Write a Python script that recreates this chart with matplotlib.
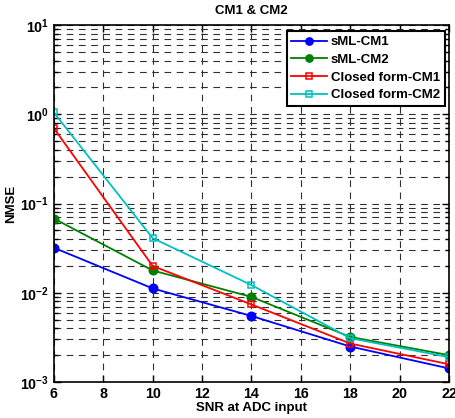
import matplotlib
matplotlib.use("Agg")
import matplotlib.pyplot as plt
from matplotlib.ticker import LogLocator, FixedLocator

snr = [6, 10, 14, 18, 22]
sml_cm1 = [0.032, 0.0112, 0.0055, 0.0025, 0.00142]
sml_cm2 = [0.068, 0.0178, 0.0090, 0.0032, 0.0020]
cf_cm1 = [0.70, 0.020, 0.0074, 0.0027, 0.00158]
cf_cm2 = [1.05, 0.041, 0.0122, 0.0031, 0.0019]
labels = ["sML-CM1", "sML-CM2", "Closed form-CM1", "Closed form-CM2"]
xticks = [6, 8, 10, 12, 14, 16, 18, 20, 22]

plt.rcParams['font.family'] = ['Liberation Sans', 'DejaVu Sans']
plt.rcParams['font.weight'] = 'bold'
FS = 9.5

fig = plt.figure(figsize=(4.56, 4.18), dpi=100)
ax = fig.add_axes([0.118, 0.086, 0.867, 0.854])

ax.plot(snr, sml_cm1, '-o', color='blue', lw=1.3, ms=6.2, label=labels[0])
ax.plot(snr, sml_cm2, '-o', color='green', lw=1.3, ms=6.2, label=labels[1])
ax.plot(snr, cf_cm1, '-s', color='red', lw=1.3, ms=5, mfc='none', mew=1.1, label=labels[2])
ax.plot(snr, cf_cm2, '-s', color='#00C0C0', lw=1.3, ms=5, mfc='none', mew=1.1, label=labels[3])

ax.set_yscale('log')
ax.set_xlim(6, 22)
ax.set_ylim(1e-3, 1e1)
ax.xaxis.set_major_locator(FixedLocator(xticks))
ax.yaxis.set_major_locator(LogLocator(base=10, numticks=10))
ax.yaxis.set_minor_locator(LogLocator(base=10, subs=range(2, 10), numticks=10))
ax.grid(True, which='major', axis='both', color='#303030', ls=(0, (6, 5)), lw=0.8)
ax.grid(True, which='minor', axis='y', color='#303030', ls=(0, (6, 5)), lw=0.8)
ax.tick_params(which='both', direction='in', top=True, right=True, labelsize=FS + 0.8, width=1)
ax.tick_params(which='major', length=5)
ax.tick_params(which='minor', length=3)
for s in ax.spines.values():
    s.set_linewidth(1.2)
for t in ax.get_xticklabels() + ax.get_yticklabels():
    t.set_fontweight('bold')

ax.set_xlabel('SNR at ADC input', fontsize=FS, fontweight='bold', labelpad=1)
ax.set_ylabel('NMSE', fontsize=FS, fontweight='bold', labelpad=2)
ax.set_title('CM1 & CM2', fontsize=FS, fontweight='bold', pad=8)

leg = ax.legend(loc='upper right', bbox_to_anchor=(0.995, 0.99), fontsize=FS, fancybox=False,
                framealpha=1, edgecolor='black', borderpad=0.35, handlelength=2.7,
                handletextpad=0.3, labelspacing=0.42, borderaxespad=0.2, markerscale=0.85)
leg.get_frame().set_linewidth(1.5)
for t in leg.get_texts():
    t.set_fontweight('bold')

fig.savefig('out.png', dpi=100)
